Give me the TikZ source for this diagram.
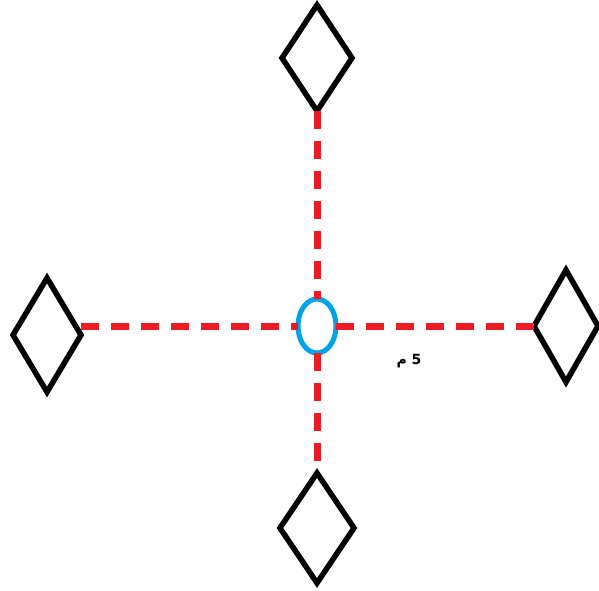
\documentclass[tikz,border=0pt]{standalone}
\usepackage{fontspec}
\newfontfamily\arabicfont[Script=Arabic]{DejaVu Sans}
\TeXXeTstate=1
\usetikzlibrary{shapes.geometric}
\definecolor{paintred}{RGB}{237,28,36}
\definecolor{paintblue}{RGB}{0,162,232}
\tikzset{
  kite/.style={shape=diamond,draw=black,line width=5.5pt,inner sep=0pt,outer sep=0pt,line join=miter},
  hub/.style={shape=ellipse,draw=paintblue,line width=5pt,inner sep=0pt,outer sep=0pt,minimum width=38pt,minimum height=54pt},
  reddash/.style={draw=paintred,line width=7pt,dash pattern=on 18pt off 12pt}
}
\begin{document}
\begin{tikzpicture}[x=1pt,y=-1pt]
\useasboundingbox[fill=white] (0,0) rectangle (599,590);
\node[kite,minimum width=70pt,minimum height=106pt] (top) at (317,58) {};
\node[kite,minimum width=68pt,minimum height=114pt] (left) at (47,335) {};
\node[kite,minimum width=64pt,minimum height=112pt] (right) at (566,326) {};
\node[kite,minimum width=74pt,minimum height=110pt] (bottom) at (317,528) {};
\node[hub] (c) at (317,326) {};
\draw[reddash] (top.south) -- (c.north);
\draw[reddash] (c.south) -- (bottom.north);
\draw[reddash] (left.east |- c.west) -- (c.west);
\draw[reddash] (c.east) -- (right.west);
\node (lbl) at (409,361) {\arabicfont\bfseries\fontsize{14}{16}\selectfont\beginR 5 م\endR};
\end{tikzpicture}
\end{document}
